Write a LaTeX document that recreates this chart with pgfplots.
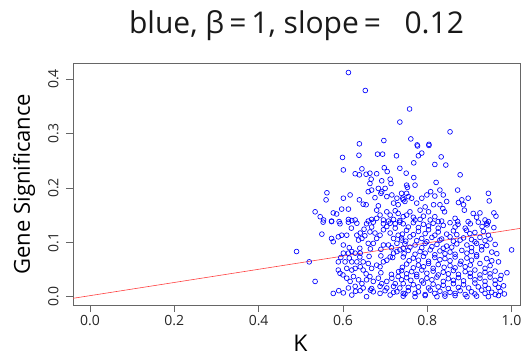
\documentclass[border=0pt]{standalone}
\usepackage{fontspec}
\setmainfont{Open Sans}
\usepackage{pgfplots}
\pgfplotsset{compat=1.18}
\begin{document}
\begin{tikzpicture}
\begin{axis}[
  at={(0,0)}, anchor=south west,
  scale only axis, width=447pt, height=241.7pt,
  xmin=-0.0403, xmax=1.02, ymin=-0.0153, ymax=0.429,
  xtick={0,0.2,0.4,0.6,0.8,1.0},
  ytick={0,0.1,0.2,0.3,0.4},
  xtick pos=bottom, ytick pos=left,
  tick align=outside,
  major tick length=7pt,
  every tick/.style={black!60, line width=0.6pt},
  axis line style={black!60, line width=0.6pt},
  /pgf/number format/assume math mode=true,
  /pgf/number format/fixed,
  /pgf/number format/fixed zerofill,
  /pgf/number format/precision=1,
  tick label style={font=\fontsize{14}{16}\selectfont, text=black!85},
  yticklabel style={rotate=90, anchor=south, yshift=4pt},
  title={blue, β\,=\,1, slope\,=\ \ \ 0.12},
  title style={at={(axis description cs:0.5,1)}, anchor=base, yshift=24pt, font=\fontsize{30}{34}\selectfont, text=black!90},
  xlabel={K},
  xlabel style={at={(axis description cs:0.5,0)}, anchor=base, inner sep=0pt, yshift=-46pt, xshift=4pt, font=\fontsize{23}{26}\selectfont},
  ylabel={Gene Significance},
  every axis y label/.style={at={(axis description cs:0,0.5)}, rotate=90, anchor=base, inner sep=0pt, yshift=43pt, font=\fontsize{22}{26}\selectfont},
  clip=true,
]
\addplot[only marks, mark=o, mark size=2.4pt, blue, mark options={line width=0.65pt}] coordinates {
(0.613,0.412)(0.653,0.379)(0.735,0.321)(0.697,0.287)(0.639,0.281)(0.758,0.345)(0.854,0.303)(0.761,0.290)(0.776,0.279)(0.804,0.280)
(0.599,0.256)(0.638,0.260)(0.682,0.262)(0.694,0.262)(0.727,0.259)(0.601,0.233)(0.629,0.226)(0.639,0.224)(0.655,0.225)(0.664,0.227)
(0.680,0.226)(0.645,0.235)(0.698,0.237)(0.705,0.230)(0.735,0.236)(0.664,0.208)(0.667,0.216)(0.692,0.213)(0.712,0.216)(0.714,0.208)
(0.684,0.199)(0.692,0.193)(0.690,0.190)(0.700,0.199)(0.562,0.191)(0.560,0.178)(0.601,0.181)(0.617,0.187)(0.660,0.193)(0.668,0.196)
(0.639,0.178)(0.648,0.170)(0.655,0.169)(0.676,0.182)(0.704,0.184)(0.716,0.187)(0.728,0.181)(0.739,0.190)(0.742,0.181)(0.534,0.156)
(0.546,0.147)(0.554,0.141)(0.577,0.154)(0.585,0.152)(0.597,0.161)(0.613,0.161)(0.573,0.139)(0.591,0.138)(0.613,0.142)(0.621,0.140)
(0.629,0.141)(0.660,0.139)(0.668,0.142)(0.680,0.159)(0.684,0.167)(0.688,0.150)(0.680,0.144)(0.704,0.156)(0.712,0.150)(0.724,0.158)
(0.731,0.153)(0.696,0.141)(0.708,0.139)(0.720,0.142)(0.735,0.140)(0.743,0.147)(0.720,0.172)(0.731,0.169)
(0.777,0.277)(0.804,0.278)(0.779,0.259)(0.787,0.264)(0.833,0.257)(0.768,0.246)(0.818,0.243)(0.844,0.242)(0.750,0.227)(0.768,0.219)
(0.878,0.224)(0.751,0.205)(0.753,0.201)(0.771,0.205)(0.821,0.210)(0.751,0.190)(0.755,0.184)(0.743,0.178)(0.747,0.175)(0.763,0.181)
(0.787,0.181)(0.799,0.187)(0.808,0.193)(0.818,0.185)(0.830,0.196)(0.838,0.187)(0.846,0.175)(0.830,0.169)(0.837,0.162)(0.841,0.156)
(0.872,0.196)(0.874,0.173)(0.886,0.169)(0.888,0.159)(0.882,0.178)(0.897,0.181)(0.945,0.190)(0.947,0.176)(0.775,0.172)(0.783,0.159)
(0.795,0.165)(0.803,0.156)(0.815,0.169)(0.759,0.156)(0.751,0.150)(0.767,0.146)(0.771,0.141)(0.783,0.142)(0.791,0.148)(0.807,0.141)
(0.818,0.147)(0.826,0.138)(0.834,0.139)(0.866,0.144)(0.872,0.138)(0.897,0.138)(0.909,0.153)(0.917,0.146)(0.925,0.154)(0.937,0.141)
(0.945,0.138)(0.958,0.154)(0.963,0.148)(0.941,0.135)
(0.553,0.137)(0.573,0.138)(0.593,0.134)(0.613,0.137)(0.633,0.135)(0.656,0.134)(0.672,0.137)(0.696,0.134)(0.712,0.135)(0.724,0.134)(0.735,0.137)
(0.550,0.115)(0.573,0.107)(0.577,0.101)(0.589,0.110)(0.597,0.113)(0.609,0.113)(0.601,0.095)(0.633,0.113)(0.641,0.117)(0.645,0.107)
(0.637,0.104)(0.652,0.112)(0.664,0.119)(0.676,0.117)(0.688,0.113)(0.680,0.107)(0.660,0.098)(0.672,0.098)(0.696,0.123)(0.704,0.129)
(0.712,0.117)(0.724,0.126)(0.720,0.107)(0.731,0.113)(0.739,0.104)(0.728,0.098)(0.708,0.095)(0.696,0.095)
(0.490,0.083)(0.520,0.064)(0.534,0.028)
(0.601,0.080)(0.613,0.080)(0.621,0.083)(0.629,0.080)(0.641,0.080)
(0.589,0.064)(0.605,0.064)(0.621,0.064)(0.633,0.064)(0.648,0.064)
(0.589,0.049)(0.593,0.043)(0.609,0.052)(0.621,0.049)(0.629,0.052)
(0.641,0.055)(0.648,0.049)(0.660,0.061)(0.668,0.052)(0.680,0.058)(0.688,0.055)(0.696,0.064)(0.704,0.067)(0.712,0.073)(0.720,0.080)
(0.728,0.083)(0.735,0.086)(0.743,0.089)
(0.609,0.034)(0.617,0.028)(0.625,0.037)(0.637,0.031)(0.645,0.024)(0.656,0.031)(0.664,0.037)(0.672,0.028)(0.684,0.034)(0.692,0.024)
(0.704,0.028)(0.716,0.034)(0.724,0.024)(0.731,0.037)(0.739,0.031)
(0.577,0.006)(0.601,0.007)(0.621,0.003)(0.641,0.011)(0.656,0.000)(0.672,0.009)(0.688,0.006)(0.712,0.003)(0.728,0.009)(0.743,0.006)
(0.613,0.016)(0.629,0.019)(0.648,0.016)(0.668,0.015)(0.688,0.019)(0.704,0.016)(0.720,0.019)(0.735,0.016)
(0.620,0.126)(0.650,0.124)(0.668,0.128)
(0.615,0.090)(0.640,0.089)(0.665,0.088)(0.690,0.087)(0.715,0.090)
(0.595,0.072)(0.615,0.071)(0.640,0.073)(0.662,0.074)(0.690,0.075)(0.718,0.072)
(0.600,0.040)(0.655,0.042)(0.690,0.044)(0.715,0.041)(0.732,0.046)
(0.590,0.011)(0.630,0.010)(0.665,0.012)(0.700,0.011)(0.720,0.008)
(0.743,0.134)(0.767,0.136)(0.791,0.133)(0.814,0.135)(0.838,0.131)(0.854,0.136)(0.873,0.133)(0.902,0.134)(0.921,0.137)(0.942,0.132)
(0.755,0.128)(0.779,0.127)(0.803,0.130)(0.826,0.126)(0.866,0.128)(0.890,0.126)(0.930,0.129)(0.958,0.127)
(0.751,0.122)(0.779,0.120)(0.803,0.123)(0.826,0.119)(0.862,0.121)(0.893,0.122)(0.913,0.118)(0.933,0.120)
(0.741,0.115)(0.767,0.114)(0.795,0.116)(0.818,0.113)(0.846,0.115)(0.870,0.114)(0.901,0.116)(0.945,0.113)
(0.739,0.108)(0.759,0.110)(0.787,0.107)(0.811,0.109)(0.834,0.106)(0.854,0.110)(0.886,0.108)(0.905,0.105)(0.925,0.109)(0.949,0.106)
(0.749,0.102)(0.775,0.103)(0.799,0.101)(0.830,0.104)(0.862,0.102)(0.878,0.104)(0.913,0.101)(0.937,0.103)
(0.747,0.097)(0.771,0.095)(0.795,0.098)(0.823,0.096)(0.846,0.093)(0.870,0.097)(0.894,0.095)(0.917,0.098)(0.941,0.094)(0.961,0.096)
(0.759,0.091)(0.787,0.090)(0.811,0.092)(0.838,0.089)(0.858,0.091)(0.905,0.090)(0.929,0.092)
(0.755,0.085)(0.783,0.083)(0.807,0.086)(0.830,0.084)(0.854,0.082)(0.882,0.085)(0.905,0.083)(0.929,0.086)(0.953,0.082)(1.000,0.086)
(0.745,0.079)(0.771,0.078)(0.795,0.080)(0.818,0.077)(0.842,0.079)(0.866,0.078)(0.894,0.080)(0.917,0.077)(0.965,0.079)
(0.743,0.073)(0.767,0.071)(0.791,0.074)(0.818,0.072)(0.842,0.070)(0.866,0.073)(0.894,0.071)(0.917,0.074)(0.941,0.070)
(0.757,0.066)(0.779,0.067)(0.803,0.065)(0.830,0.068)(0.854,0.066)(0.880,0.065)(0.905,0.067)(0.953,0.066)
(0.751,0.060)(0.779,0.058)(0.803,0.061)(0.826,0.059)(0.854,0.057)(0.878,0.060)(0.902,0.058)(0.925,0.061)(0.949,0.057)(0.969,0.064)
(0.741,0.054)(0.767,0.053)(0.791,0.055)(0.814,0.052)(0.840,0.054)(0.866,0.053)(0.890,0.055)(0.937,0.052)
(0.739,0.048)(0.763,0.046)(0.787,0.049)(0.814,0.047)(0.838,0.045)(0.862,0.048)(0.890,0.046)(0.913,0.049)(0.937,0.045)(0.961,0.047)(0.989,0.044)
(0.751,0.042)(0.775,0.041)(0.799,0.043)(0.826,0.040)(0.850,0.042)(0.874,0.041)(0.902,0.043)(0.925,0.040)(0.949,0.042)(0.975,0.039)
(0.751,0.035)(0.775,0.037)(0.799,0.034)(0.823,0.036)(0.850,0.033)(0.874,0.035)(0.902,0.037)(0.925,0.034)(0.949,0.036)(0.973,0.032)
(0.761,0.030)(0.787,0.029)(0.811,0.031)(0.838,0.028)(0.862,0.030)(0.886,0.029)(0.913,0.031)(0.937,0.028)(0.961,0.030)
(0.743,0.024)(0.767,0.022)(0.791,0.025)(0.814,0.023)(0.838,0.021)(0.862,0.024)(0.886,0.022)(0.913,0.025)(0.937,0.021)(0.961,0.023)(0.981,0.020)
(0.755,0.017)(0.779,0.018)(0.803,0.016)(0.826,0.018)(0.850,0.015)(0.874,0.017)(0.898,0.016)(0.921,0.018)(0.945,0.015)(0.969,0.017)
(0.755,0.011)(0.779,0.009)(0.807,0.012)(0.830,0.010)(0.854,0.008)(0.878,0.011)(0.905,0.009)(0.929,0.012)(0.953,0.008)(0.973,0.010)
(0.747,0.005)(0.771,0.006)(0.795,0.004)(0.818,0.006)(0.842,0.005)(0.866,0.006)(0.890,0.004)(0.913,0.005)(0.937,0.006)(0.961,0.004)(0.983,0.005)
(0.743,0.001)(0.771,0.000)(0.795,0.002)(0.823,0.000)(0.842,0.001)(0.866,0.002)(0.894,0.000)(0.917,0.001)(0.945,0.000)(0.969,0.002)
};
\addplot[red!75!white, line width=0.6pt] coordinates {(-0.0403,-0.0030) (1.02,0.1255)};
\end{axis}
\pgfresetboundingbox
\useasboundingbox (-73pt,-51pt) rectangle (448pt,305pt);
\end{tikzpicture}
\end{document}
